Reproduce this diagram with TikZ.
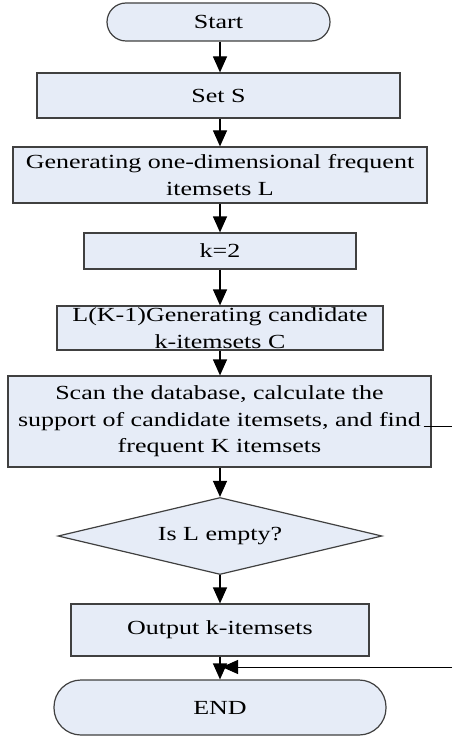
\documentclass[tikz,border=0pt]{standalone}
\usepackage{fontspec}
\setmainfont{Liberation Serif}[FakeStretch=1.3]
\usetikzlibrary{arrows.meta}
\usetikzlibrary{shapes.geometric}
\definecolor{boxfill}{RGB}{230,236,247}
\definecolor{boxline}{RGB}{64,64,64}
\tikzset{
    blk/.style={
        draw=boxline, fill=boxfill, line width=1.2pt,
        inner sep=0pt, align=center,
        font=\fontsize{20}{26.5}\selectfont
    },
    proc/.style={blk, rectangle, minimum width=#1},
    term/.style={blk, rectangle, rounded corners=#1},
    dec/.style={blk, diamond, aspect=4.2},
    arr/.style={-{Triangle[length=16pt,width=14pt]}, line width=1.2pt}
}

\begin{document}
\begin{tikzpicture}[x=1pt,y=-1pt]
		\useasboundingbox (0,0) rectangle (452,738);

		% main column
		\node[term=19pt, minimum width=223pt, minimum height=38pt] (start) at (218.5,22) {Start};
		\node[proc=363pt, minimum height=45pt] (sets) at (218.5,95.5) {Set S};
		\node[proc=414pt, minimum height=56pt] (gen) at (220,175) {Generating one-dimensional frequent\\itemsets L};
		\node[proc=272pt, minimum height=36pt] (ktwo) at (220,251) {k=2};
		\node[proc=326pt, minimum height=44pt] (cand) at (220,328) {L(K-1)Generating candidate\\k-itemsets C};
		\node[proc=423pt, minimum height=91pt] (scan) at (219.5,421.5) {Scan the database, calculate the\\support of candidate itemsets, and find\\frequent K itemsets};
		\node[dec, minimum width=324pt, minimum height=77pt] (empty) at (220,536) {Is L empty?};
		\node[proc=298pt, minimum height=52pt] (out) at (220,630) {Output k-itemsets};
		\node[term=27pt, minimum width=332pt, minimum height=55pt] (end) at (220,707.5) {END};

		\draw[arr] (start.south -| ktwo) -- (sets.north -| ktwo);
		\draw[arr] (sets.south -| ktwo) -- (gen.north);
		\draw[arr] (gen) -- (ktwo);
		\draw[arr] (ktwo) -- (cand);
		\draw[arr] (cand) -- (scan.north -| cand);
		\draw[arr] (scan.south -| cand) -- (empty.north);
		\draw[arr] (empty.south) -- (out.north);
		\draw[arr] (out) -- (end);

		% loose ends on the right
		\coordinate (fbout) at (452,426);
		\coordinate (fbin) at (452,667);
		\draw[line width=1pt] ([xshift=-8pt]scan.east |- fbout) -- (fbout);
		\draw[arr, line width=1pt] (fbin) -- ([xshift=2pt]fbin -| end.north);

	\end{tikzpicture}
\end{document}
